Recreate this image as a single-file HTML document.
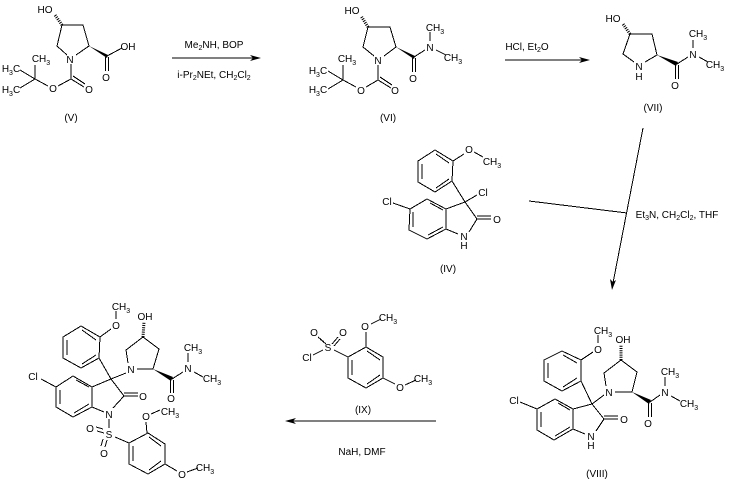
<!DOCTYPE html>
<html><head><meta charset="utf-8"><style>
html,body{margin:0;padding:0;background:#fff;width:730px;height:487px;overflow:hidden}
svg{display:block}
text{font-family:"Liberation Sans",Arial,sans-serif;font-size:10px;fill:#000;text-anchor:middle}
tspan.s{font-size:7px}
.b{fill:none;stroke:#000;stroke-width:1;shape-rendering:crispEdges}
.h{fill:none;stroke:#000;stroke-width:3;stroke-dasharray:1 1.2}
</style></head><body>
<svg width="730" height="487" viewBox="0 0 730 487" xmlns="http://www.w3.org/2000/svg">
<rect width="730" height="487" fill="#fff"/>

<!-- V -->
<path class="b" d="M67,55L57,46L62,25L83,25L89,46L76,55M71,64V79L58,86M71,79L84,87M73,76L85,84M48,86L35,79V65M35,79L20,70M35,79L20,88M107,56L122,48M105.500,57V71M108.500,57V71"/>
<path class="h" d="M62,25L55,15"/>
<polygon points="89,46 108,55 107,58"/>
<text x="45" y="13">HO</text><text x="70" y="63">N</text><text x="128" y="50">OH</text><text x="106" y="81">O</text><text x="53" y="92">O</text><text x="89" y="93">O</text>
<text x="41" y="62">CH<tspan class="s" dy="3">3</tspan></text>
<text x="11" y="72">H<tspan class="s" dy="3">3</tspan><tspan dy="-3">C</tspan></text>
<text x="11" y="93">H<tspan class="s" dy="3">3</tspan><tspan dy="-3">C</tspan></text>
<text x="71" y="121">(V)</text>

<!-- arrow 1 -->
<path class="b" d="M172,58H253"/><polygon points="261,58 250,55 253,58 250,61"/>
<text x="214" y="48">Me<tspan class="s" dy="2">2</tspan><tspan dy="-2">NH, BOP</tspan></text>
<text x="214" y="78">i-Pr<tspan class="s" dy="2">2</tspan><tspan dy="-2">NEt, CH</tspan><tspan class="s" dy="2">2</tspan><tspan dy="-2">Cl</tspan><tspan class="s" dy="2">2</tspan></text>

<!-- VI -->
<path class="b" d="M374,56L363,47L368,27L390,27L396,47L384,56M378,65V80L366,87M378,80L391,88M380,77L392,85M356,87L343,80V65M343,80L328,71M343,80L328,89M414,57L425,50M412.500,58V72M415.500,58V72M430,41V32M436,50L446,55"/>
<path class="h" d="M368,27L361,16"/>
<polygon points="396,47 415,56 414,59"/>
<text x="352" y="14">HO</text><text x="378" y="64">N</text><text x="430" y="51">N</text><text x="413" y="82">O</text><text x="361" y="94">O</text><text x="395" y="94">O</text>
<text x="435" y="31">CH<tspan class="s" dy="3">3</tspan></text>
<text x="453" y="61">CH<tspan class="s" dy="3">3</tspan></text>
<text x="347" y="62">CH<tspan class="s" dy="3">3</tspan></text>
<text x="318" y="74">H<tspan class="s" dy="3">3</tspan><tspan dy="-3">C</tspan></text>
<text x="318" y="93">H<tspan class="s" dy="3">3</tspan><tspan dy="-3">C</tspan></text>
<text x="388" y="121">(VI)</text>

<!-- arrow 2 -->
<path class="b" d="M505,60H582"/><polygon points="590,60 579,57 582,60 579,63"/>
<text x="527" y="50">HCl, Et<tspan class="s" dy="2">2</tspan><tspan dy="-2">O</tspan></text>

<!-- VII -->
<path class="b" d="M634,62L623,54L630,34L652,34L657,55L645,62M677,64L688,57M675.500,65V79M678.500,65V79M693,48V40M699,57L708,62"/>
<path class="h" d="M630,34L623,24"/>
<polygon points="657,55 678,62 676,66"/>
<text x="613" y="22">HO</text><text x="639" y="70">N</text><text x="639" y="80">H</text><text x="693" y="58">N</text><text x="675" y="89">O</text>
<text x="698" y="37">CH<tspan class="s" dy="3">3</tspan></text>
<text x="715" y="68">CH<tspan class="s" dy="3">3</tspan></text>
<text x="653" y="111">(VII)</text>

<!-- arrow 3 + line -->
<path class="b" d="M643,128L613,283M529,201L627,213"/><polygon points="612,290 610,279 613,282 616,280"/>
<text x="677" y="218">Et<tspan class="s" dy="2">3</tspan><tspan dy="-2">N, CH</tspan><tspan class="s" dy="2">2</tspan><tspan dy="-2">Cl</tspan><tspan class="s" dy="2">2</tspan><tspan dy="-2">, THF</tspan></text>

<!-- IV -->
<path class="b" d="M435,150L453,161L452,181L435,192L418,182V161L435,150M422,164V179M436,154L449,163M436,188L449,179M453,161L464,154M474,152L483,157M452,181L465,202L446,209L427,199L410,209L409,230L427,239L446,229V209M430,203L443,210M413,212V227M428,235L443,227M446,229L458,234M469,232L477,219L465,202M477,219H491M477,216H491M465,202L477,195M393,203L410,209"/>
<text x="469" y="153">O</text><text x="492" y="165">CH<tspan class="s" dy="3">3</tspan></text>
<text x="483" y="196">Cl</text><text x="387" y="205">Cl</text>
<text x="464" y="240">N</text><text x="464" y="249">H</text><text x="497" y="223">O</text>
<text x="448" y="272">(IV)</text>

<!-- VIII -->
<path class="b" d="M562,351L581,360V381L562,391L544,381V360L562,351M548,363V378M563,355L577,363M563,387L577,378M581,360L593,352M598,343V335M581,381L592,404L573,409L555,399L537,409V430L554,440L573,429V409M558,403L570,410M541,412V427M555,436L570,427M573,429L585,434M596,431L604,419L592,404L604,395M604,419H618M604,416H618M520,402L537,409M606,386L604,373L621,360L637,372L632,392L615,392M650,402L660,395M648.500,403V417M651.500,403V417M665,386V377M671,396L680,401"/>
<path class="h" d="M621,360L621,345"/>
<polygon points="632,392 651,400 649,404"/>
<text x="598" y="353">O</text><text x="603" y="334">CH<tspan class="s" dy="3">3</tspan></text>
<text x="623" y="343">OH</text><text x="609" y="396">N</text><text x="665" y="396">N</text>
<text x="670" y="375">CH<tspan class="s" dy="3">3</tspan></text><text x="689" y="407">CH<tspan class="s" dy="3">3</tspan></text>
<text x="648" y="427">O</text><text x="624" y="423">O</text><text x="591" y="440">N</text><text x="591" y="449">H</text><text x="514" y="404">Cl</text>
<text x="597" y="477">(VIII)</text>

<!-- IX -->
<path class="b" d="M348,357L366,347L383,357V378L366,388L348,378V357M352,360V375M367,351L380,360M367,384L380,375M366,347V332M371,324L381,319M383,378L395,384M405,385L416,380M334,350L348,357M313,355L323,350M320,339L326,344M318,337L324,342M338,337L332,344M340,339L334,346"/>
<text x="307" y="361">Cl</text><text x="328" y="351">S</text><text x="314" y="336">O</text><text x="343" y="336">O</text><text x="365" y="330">O</text><text x="400" y="391">O</text>
<text x="388" y="321">CH<tspan class="s" dy="3">3</tspan></text><text x="423" y="382">CH<tspan class="s" dy="3">3</tspan></text>
<text x="363" y="413">(IX)</text>

<!-- arrow 4 -->
<path class="b" d="M436,421H293"/><polygon points="285,421 296,418 293,421 296,424"/>
<text x="362" y="455">NaH, DMF</text>

<!-- Product -->
<path class="b" d="M81,326L100,337L99,358L81,368L63,358V337L81,326M67,340V355M82,330L96,340M82,364L96,355M100,337L111,329M116,319V311M99,358L111,379L92,387L73,376L56,387V407L73,417L92,407V387M76,380L89,387M60,390V404M74,413L89,404M92,407L104,412M113,408L124,396L111,379L126,373M124,396H138M124,393H138M41,379L56,387M128,363L126,350L143,337L159,349L153,369L137,369M172,379L183,372M170.500,380V393M173.500,380V393M188,362V353M194,372L203,377M109,419V428M97,431L104,433M96,427L103,429M107,440L105,447M103,439L101,446M115,437L129,443L148,433L165,444V464L148,474L129,464V443M133,446V461M149,437L161,446M149,470L161,461M147,433L146,422M151,414L160,410M165,464L177,471M187,472L198,468"/>
<path class="h" d="M143,337L144,322"/>
<polygon points="153,369 173,377 171,381"/>
<text x="116" y="329">O</text><text x="121" y="310">CH<tspan class="s" dy="3">3</tspan></text><text x="145" y="320">OH</text>
<text x="131" y="373">N</text><text x="188" y="372">N</text><text x="193" y="351">CH<tspan class="s" dy="3">3</tspan></text><text x="212" y="382">CH<tspan class="s" dy="3">3</tspan></text>
<text x="171" y="402">O</text><text x="143" y="400">O</text><text x="33" y="380">Cl</text><text x="109" y="418">N</text>
<text x="109" y="438">S</text><text x="90" y="432">O</text><text x="104" y="457">O</text>
<text x="146" y="420">O</text><text x="170" y="415">CH<tspan class="s" dy="3">3</tspan></text>
<text x="182" y="478">O</text><text x="205" y="471">CH<tspan class="s" dy="3">3</tspan></text>
</svg>
</body></html>
